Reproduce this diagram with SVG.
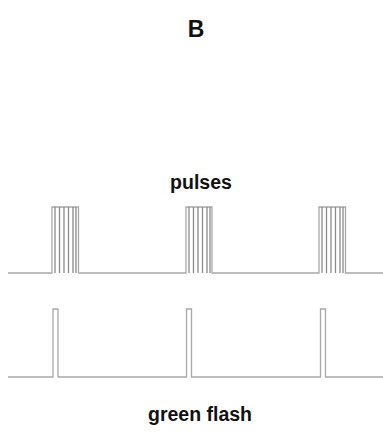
<svg xmlns="http://www.w3.org/2000/svg" width="383" height="433" viewBox="0 0 383 433">
<style>
.t{font-family:"Liberation Sans",Arial,sans-serif;font-weight:bold;fill:#111;text-anchor:middle}
.w{fill:none;stroke:#a8a8a8;stroke-width:1.3}
.p{fill:none;stroke:#8a8a8a;stroke-width:1.3}
</style>
<rect width="383" height="433" fill="#fff"/>
<g id="title"><text class="t" x="196" y="37" font-size="23">B</text></g>
<g id="label-pulses"><text class="t" x="201" y="189" font-size="19.5">pulses</text></g>
<g id="label-green"><text class="t" x="200" y="421" font-size="19.5">green flash</text></g>
<g id="connectors">
<g id="pulse-train">
<polyline class="w" points="8,273 52,273 52,207 78.5,207 78.5,273 186,273 186,207 212,207 212,273 319,273 319,207 345.5,207 345.5,273 383,273"/>
<path class="p" d="M55,207V273M59.5,207V273M64,207V273M68.5,207V273M73,207V273M76,207V273
M189,207V273M193.5,207V273M198,207V273M202.5,207V273M207,207V273M210,207V273
M322,207V273M326.5,207V273M331,207V273M335.5,207V273M340,207V273M343,207V273"/>
</g>
<g id="flash-train">
<polyline class="w" points="8,377 53,377 53,309 58,309 58,377 186.5,377 186.5,309 191.5,309 191.5,377 320.5,377 320.5,309 325.5,309 325.5,377 383,377"/>
</g>
</g>
</svg>
